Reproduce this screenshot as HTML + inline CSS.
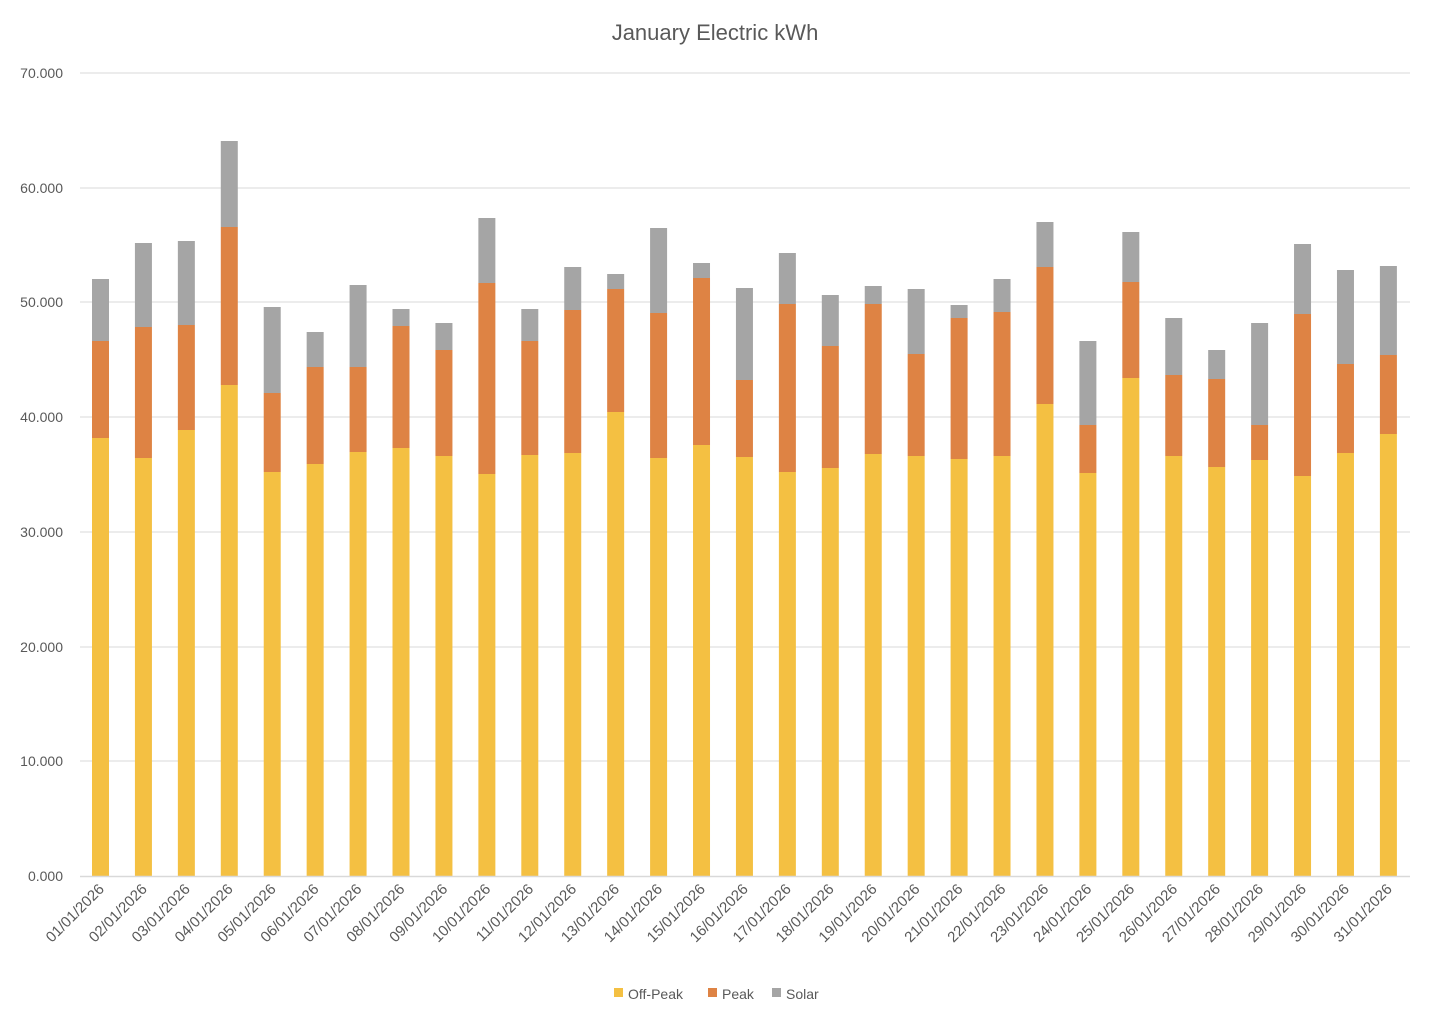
<!DOCTYPE html>
<html><head><meta charset="utf-8"><style>body{margin:0;background:#fff}svg{display:block}</style></head>
<body>
<svg id="s" width="1432" height="1022" xmlns="http://www.w3.org/2000/svg" font-family="Liberation Sans, sans-serif">
<rect width="1432" height="1022" fill="#fff"/>
<text x="715" y="40" text-anchor="middle" font-size="22" fill="#595959">January Electric kWh</text>
<g stroke="#d9d9d9" stroke-width="1">
<line x1="80" x2="1410" y1="73" y2="73"/><line x1="80" x2="1410" y1="188" y2="188"/><line x1="80" x2="1410" y1="302" y2="302"/><line x1="80" x2="1410" y1="417" y2="417"/><line x1="80" x2="1410" y1="532" y2="532"/><line x1="80" x2="1410" y1="647" y2="647"/><line x1="80" x2="1410" y1="761" y2="761"/>
</g>
<g font-size="14" fill="#595959" text-anchor="end">
<text x="63" y="78">70.000</text><text x="63" y="193">60.000</text><text x="63" y="307">50.000</text><text x="63" y="422">40.000</text><text x="63" y="537">30.000</text><text x="63" y="652">20.000</text><text x="63" y="766">10.000</text><text x="63" y="881">0.000</text>
</g>
<g id="bars"></g>
<line x1="80" x2="1410" y1="876.5" y2="876.5" stroke="#d9d9d9" stroke-width="1.5"/>
<g id="labs" font-size="15" fill="#595959" text-anchor="end"></g>
<g font-size="14" fill="#595959">
<rect x="614" y="988" width="9" height="9" fill="#F4C042"/><text x="628" y="999">Off-Peak</text>
<rect x="708" y="988" width="9" height="9" fill="#DE8344"/><text x="722" y="999">Peak</text>
<rect x="772" y="988" width="9" height="9" fill="#A5A5A5"/><text x="786" y="999">Solar</text>
</g>
</svg>
<script>
var d=[[438,341,279],[458,327,243],[430,325,241],[385,227,141],[472,393,307],[464,367,332],[452,367,285],[448,326,309],[456,350,323],[474,283,218],[455,341,309],[453,310,267],[412,289,274],[458,313,228],[445,278,263],[457,380,288],[472,304,253],[468,346,295],[454,304,286],[456,354,289],[459,318,305],[456,312,279],[404,267,222],[473,425,341],[378,282,232],[456,375,318],[467,379,350],[460,425,323],[476,314,244],[453,364,270],[434,355,266]];
var b='',l='';
for(var i=0;i<31;i++){var x=92+i*42.93,v=d[i];
b+='<rect x="'+x+'" y="'+v[2]+'" width="17" height="'+(v[1]-v[2])+'" fill="#A5A5A5"/>';
b+='<rect x="'+x+'" y="'+v[1]+'" width="17" height="'+(v[0]-v[1])+'" fill="#DE8344"/>';
b+='<rect x="'+x+'" y="'+v[0]+'" width="17" height="'+(876-v[0])+'" fill="#F4C042"/>';
var cx=x+13,dd=(i+1<10?'0':'')+(i+1);
l+='<text transform="translate('+cx+',890) rotate(-45)">'+dd+'/01/2026</text>';}
document.getElementById('bars').innerHTML=b;document.getElementById('labs').innerHTML=l;
</script>
</body></html>
